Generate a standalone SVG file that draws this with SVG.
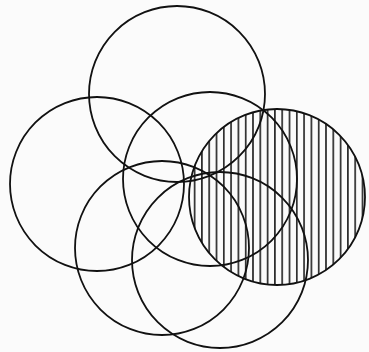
<svg xmlns="http://www.w3.org/2000/svg" width="369" height="352" viewBox="0 0 369 352">
<style>
.c{fill:none;stroke:#111;stroke-width:1.8}
.h{stroke:#111;stroke-width:1.5}
</style>
<defs>
<pattern id="vh" patternUnits="userSpaceOnUse" x="191" y="0" width="7.3" height="10">
<line class="h" x1="3.6" y1="0" x2="3.6" y2="10"/>
</pattern>
</defs>
<rect width="369" height="352" fill="#fbfbfb"/>
<g id="hatched">
<circle cx="277" cy="197" r="88" fill="url(#vh)" stroke="none"/>
<circle class="c" cx="277" cy="197" r="88"/>
</g>
<g id="top"><circle class="c" cx="177" cy="94" r="88"/></g>
<g id="left"><circle class="c" cx="97" cy="184" r="87"/></g>
<g id="middle"><circle class="c" cx="210" cy="179" r="87"/></g>
<g id="bottom-left"><circle class="c" cx="162" cy="248" r="87"/></g>
<g id="bottom-right"><circle class="c" cx="220" cy="260" r="88"/></g>
</svg>
